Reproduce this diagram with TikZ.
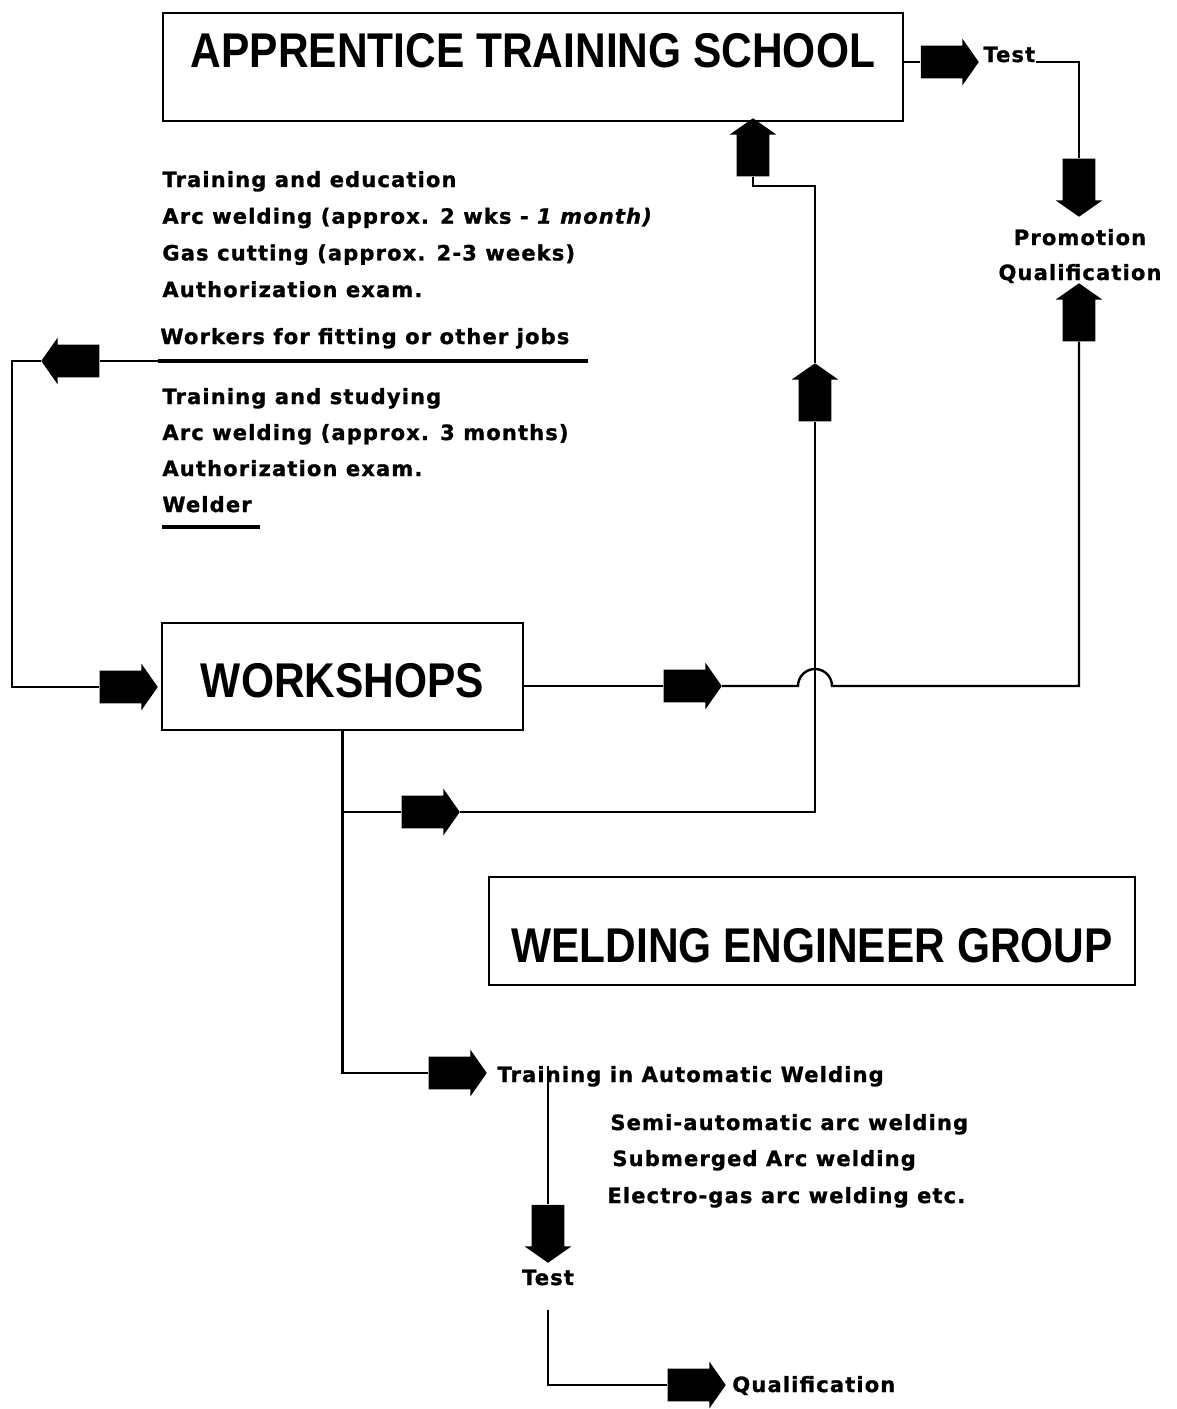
\documentclass[tikz,border=0pt]{standalone}
\usepackage{fontspec}
\setmainfont{Liberation Sans}
\newfontfamily\headfont{Liberation Sans}[FakeStretch=0.87]
\newfontfamily\notefont{DejaVu Sans}[LetterSpace=5.5,FakeBold=1.2]
\usetikzlibrary{shapes.arrows,positioning,calc}

\begin{document}
\begin{tikzpicture}[
  x=0.5pt, y=-0.5pt,
  box/.style={draw, line width=1.3pt, inner sep=0pt,
              font=\headfont\bfseries\fontsize{24.4}{28}\selectfont},
  txt/.style={inner sep=0pt, anchor=base west,
              font=\notefont\bfseries\fontsize{10.5}{12}\selectfont},
  conn/.style={line width=1.2pt},
  blk/.style={single arrow, fill=black, inner sep=0pt, minimum height=29pt,
              text width=16pt, text height=8pt, text depth=8pt,
              single arrow head extend=3.5pt, single arrow tip angle=110}
]
  \useasboundingbox (0,0) rectangle (1177,1409);

  % boxes
  \node[box, minimum width=370pt, text height=27pt, text depth=27pt] (ats) at (533,67) {APPRENTICE TRAINING SCHOOL};
  \node[box, minimum width=180.5pt, text height=37pt, text depth=16.5pt] (ws) at (342.5,676.5) {WORKSHOPS};
  \node[box, minimum width=323pt, text height=42.5pt, text depth=11.5pt] (weg) at (812,931) {WELDING ENGINEER GROUP};

  % texts
  \foreach \t [count=\i from 0] in {Training and education,
      {Arc welding (approx. 2 wks - {\itshape 1 month)}},
      Gas cutting (approx. 2-3 weeks), Authorization exam.}
    \node[txt] (edu\i) at (162,187+36.7*\i) {\t};
  \node[txt] (wk) at (160,344) {Workers for fitting or other jobs};
  \foreach \t [count=\i from 0] in {Training and  studying,
      Arc welding (approx. 3 months), Authorization exam., Welder}
    \node[txt] (stu\i) at (162,404+36*\i) {\t};
  \node[txt] (tst1) at (983,62) {Test};
  \node[txt, anchor=base] (prom) at (1080,245) {Promotion};
  \node[txt, anchor=base] (pq) at (1080,280) {Qualification};
  \node[txt] (taw) at (497,1082) {Training in Automatic Welding};
  \node[txt] (saw) at (610,1130) {Semi-automatic arc welding};
  \node[txt] (sub) at (612,1166) {Submerged Arc welding};
  \node[txt] (egw) at (607,1203) {Electro-gas arc welding etc.};
  \node[txt, anchor=base] (tst2) at (548,1285) {Test};
  \node[txt] (qual) at (732,1392) {Qualification};

  % underlines
  \coordinate (wkL) at (158,361);
  \coordinate (wkR) at (588,361);
  \draw[line width=1.6pt] (wkL) -- (wkR);
  \draw[line width=2.2pt] (162,527) -- (260,527);

  % block arrows
  \node[blk] (aT) at (944,62) {};
  \node[blk, shape border rotate=270] (aD) at (1079,182) {};
  \node[blk, shape border rotate=90] (aU) at (1079,318) {};
  \node[blk, shape border rotate=180] (aL) at (76,361) {};
  \node[blk] (aW) at (123,687) {};
  \node[blk] (aR) at (687,686) {};
  \node[blk, shape border rotate=90] (aV) at (815,398) {};
  \node[blk, shape border rotate=90] (aS) at (753,153) {};
  \node[blk] (aB) at (425,812) {};
  \node[blk] (aA) at (452,1073) {};
  \node[blk, shape border rotate=270] (aD2) at (548,1228) {};
  \node[blk] (aQ) at (691,1385) {};

  % connectors
  \coordinate (cL) at (12,361);
  \coordinate (c3) at (548,1310);
  \draw[conn] (ats.east |- aT.tail) -- (aT.tail);
  \draw[conn] (tst1.base east) -| (aD.tail);
  \draw[conn] (wkL) -- (aL.tail);
  \draw[conn] (aL.tip) -- (cL) |- (aW.tail);
  \draw[conn] (ws.east |- aR) -- (aR.tail);
  \draw[conn] (aR.tip) -- ($(aV |- aR)+(-17,0)$)
    arc[start angle=180, end angle=0, radius=8.5pt] -| (aU.tail);
  \draw[conn] (ws.south) |- (aA.tail);
  \draw[conn] (ws.south |- aB) -- (aB.tail);
  \draw[conn] (aB.tip) -| (aV.tail);
  \draw[conn] (aV.tip) -- ++(0,-177) -| (aS.tail);
  \draw[conn] (taw.north -| aD2) -- (aD2.tail);
  \draw[conn] (c3) |- (aQ.tail);
\end{tikzpicture}
\end{document}
